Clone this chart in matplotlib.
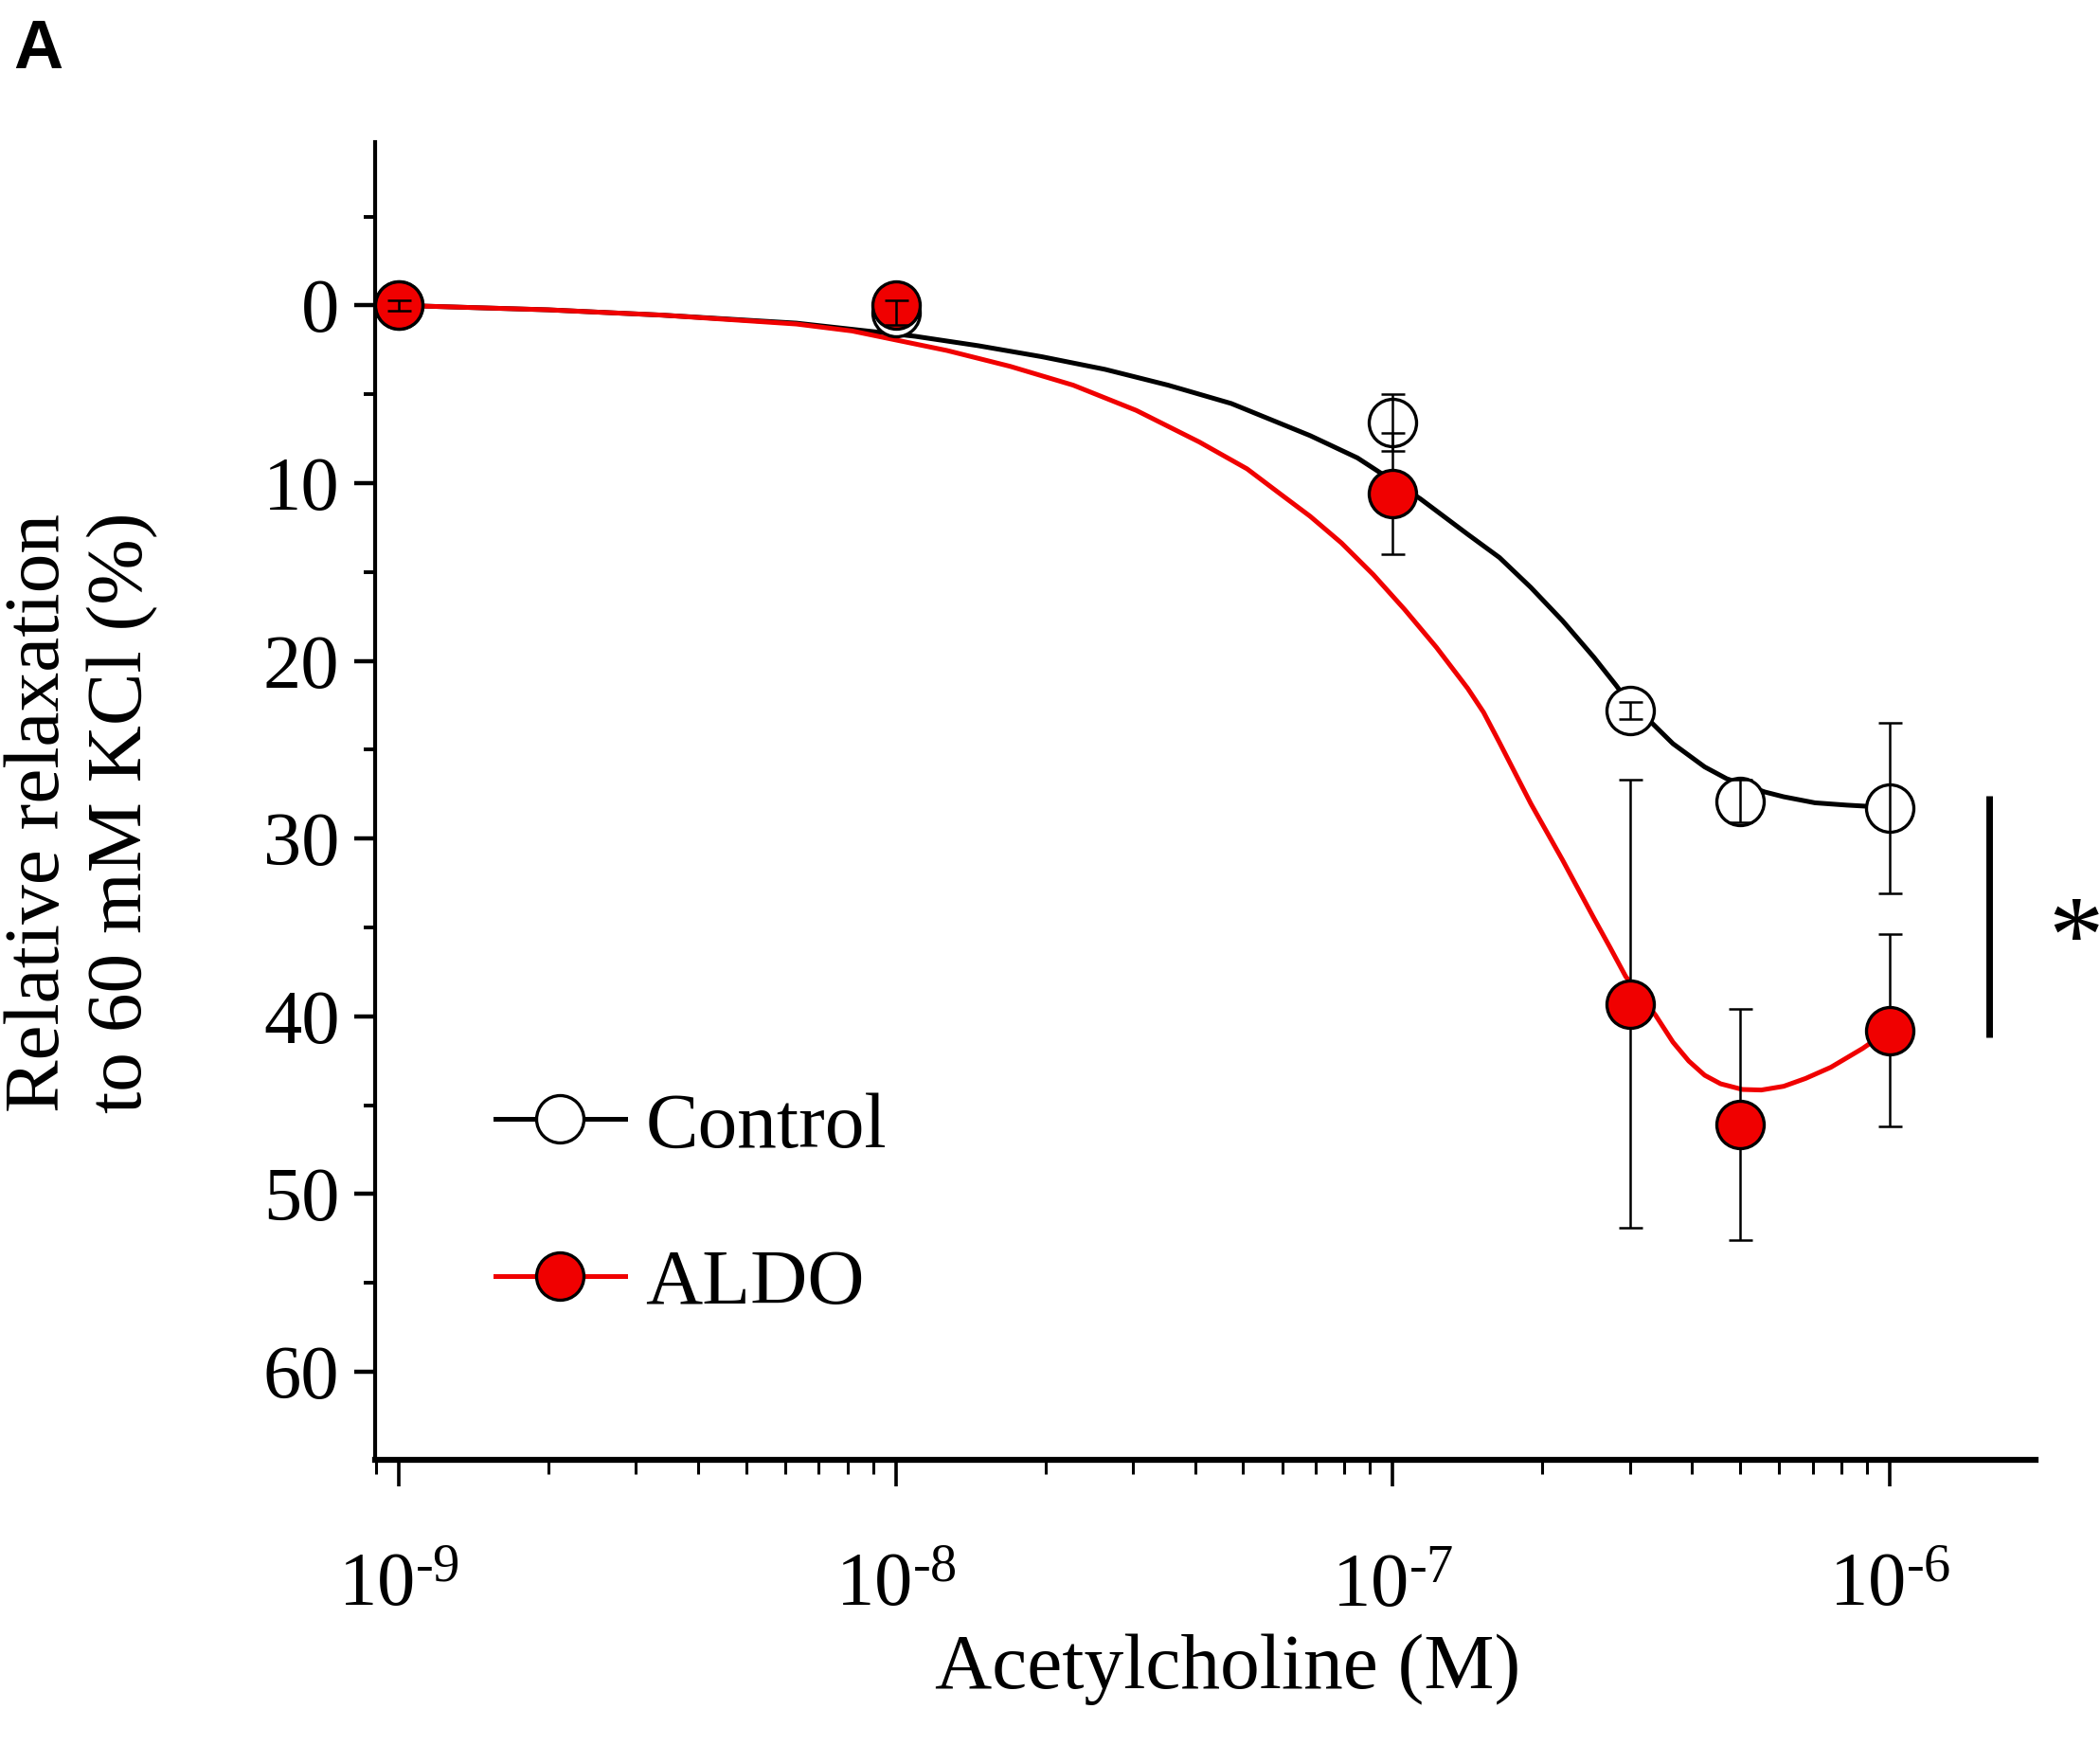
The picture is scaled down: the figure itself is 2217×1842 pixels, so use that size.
import numpy as np
import matplotlib
matplotlib.use('Agg')
import matplotlib.pyplot as plt
from matplotlib.lines import Line2D
from matplotlib.ticker import FixedLocator, LogLocator, NullFormatter, FixedFormatter

plt.rcParams['font.family'] = ['Liberation Serif', 'DejaVu Serif']
plt.rcParams['mathtext.fontset'] = 'custom'
plt.rcParams['mathtext.rm'] = 'Liberation Serif'
plt.rcParams['mathtext.it'] = 'Liberation Serif:italic'

# ---- data ----
conc = [1e-9, 1e-8, 1e-7, 3e-7, 5e-7, 1e-6]
control_mean = [0.0, 0.4, 6.6, 22.8, 27.9, 28.3]
control_sem = [0.3, 0.7, 1.6, 0.5, 1.2, 4.8]
aldo_mean = [0.0, 0.0, 10.6, 39.3, 46.1, 40.8]
aldo_sem = [0.3, 0.3, 3.4, 12.6, 6.5, 5.4]

# fitted curves (log10 concentration, value)
control_fit_logc = [-9.0, -8.7, -8.47, -8.2, -7.961, -7.834, -7.706, -7.579, -7.452, -7.325,
                    -7.166, -7.071, -6.944, -6.849, -6.785, -6.722, -6.658, -6.595, -6.55,
                    -6.525, -6.48, -6.436, -6.372, -6.328, -6.29, -6.251, -6.213, -6.15,
                    -6.086, -6.048, -6.0]
control_fit_val = [0.0, 0.25, 0.55, 1.0, 1.74, 2.27, 2.89, 3.6, 4.49, 5.52,
                   7.33, 8.58, 10.89, 12.88, 14.19, 15.87, 17.75, 19.8, 21.39,
                   22.35, 23.45, 24.66, 25.97, 26.63, 27.0, 27.38, 27.65, 27.99,
                   28.12, 28.18, 28.25]
aldo_fit_logc = [-9.0, -8.7, -8.47, -8.2, -8.088, -7.897, -7.77, -7.643, -7.516, -7.389,
                 -7.293, -7.23, -7.166, -7.103, -7.039, -6.976, -6.912, -6.849, -6.817,
                 -6.785, -6.722, -6.658, -6.595, -6.563, -6.531, -6.471, -6.436, -6.404,
                 -6.372, -6.34, -6.296, -6.258, -6.213, -6.169, -6.118, -6.054, -6.0]
aldo_fit_val = [0.0, 0.25, 0.55, 1.05, 1.44, 2.54, 3.43, 4.49, 5.91, 7.69,
                9.2, 10.53, 11.87, 13.37, 15.15, 17.11, 19.24, 21.55, 22.9,
                24.6, 28.03, 31.21, 34.48, 36.1, 37.76, 39.94, 41.45, 42.52,
                43.32, 43.8, 44.12, 44.15, 43.94, 43.5, 42.87, 41.81, 40.77]

yticks = [0, 10, 20, 30, 40, 50, 60]
yminor = [-5, 5, 15, 25, 35, 45, 55]
xticks = [1e-9, 1e-8, 1e-7, 1e-6]
xticklabels = [r'$\mathregular{10^{\text{-}9}}$', r'$\mathregular{10^{\text{-}8}}$',
               r'$\mathregular{10^{\text{-}7}}$', r'$\mathregular{10^{\text{-}6}}$']
sig_x = 10 ** -5.80
sig_y = [27.6, 41.2]

W, H = 2217, 1842
fig = plt.figure(figsize=(W / 100, H / 100), dpi=100)
ax = fig.add_axes([396 / W, 1 - 1541 / H, (2149 - 396) / W, (1541 - 150.5) / H])
ax.set_xscale('log')
ax.set_xlim(10 ** -9.048, 10 ** -5.706)
ax.set_ylim(64.96, -9.16)

red = '#f00000'
lw_curve = 3.6
ms = 36
mew = 2.4
elw = 1.8

ax.plot(10 ** np.array(control_fit_logc), control_fit_val, color='black', lw=lw_curve,
        zorder=2, solid_joinstyle='round')
ax.plot(10 ** np.array(aldo_fit_logc), aldo_fit_val, color=red, lw=lw_curve,
        zorder=2, solid_joinstyle='round')

ax.plot(conc, control_mean, 'o', ms=ms, mfc='white', mec='black', mew=mew, zorder=3)
ax.errorbar(conc, aldo_mean, yerr=aldo_sem, fmt='none', ecolor='black', elinewidth=elw,
            capsize=9, capthick=elw, zorder=3.5)
ax.plot(conc, aldo_mean, 'o', ms=ms, mfc=red, mec='black', mew=mew, zorder=4)
ax.errorbar(conc, control_mean, yerr=control_sem, fmt='none', ecolor='black', elinewidth=elw,
            capsize=9, capthick=elw, zorder=5)

# significance bar and asterisk
ax.plot([sig_x, sig_x], sig_y, color='black', lw=5, clip_on=False, solid_capstyle='butt')
ax.text(10 ** -5.625, 36.0, '*', fontsize=84, ha='center', va='center', clip_on=False)

for s in ['top', 'right']:
    ax.spines[s].set_visible(False)
ax.spines['left'].set_linewidth(3.0)
ax.spines['bottom'].set_linewidth(4.5)

ax.yaxis.set_major_locator(FixedLocator(yticks))
ax.yaxis.set_minor_locator(FixedLocator(yminor))
ax.xaxis.set_major_locator(FixedLocator(xticks))
ax.xaxis.set_major_formatter(FixedFormatter(xticklabels))
ax.xaxis.set_minor_locator(LogLocator(base=10, subs=np.arange(2, 10)))
ax.xaxis.set_minor_formatter(NullFormatter())

ax.tick_params(axis='y', which='major', length=16, width=3.2, labelsize=58, pad=11, direction='out')
ax.tick_params(axis='y', which='minor', length=9, width=2.8, direction='out')
ax.tick_params(axis='x', which='major', length=20, width=2.6, labelsize=58, pad=51, direction='out')
ax.tick_params(axis='x', which='minor', length=11, width=2.2, direction='out')

ax.set_xlabel('Acetylcholine (M)', fontsize=60)
ax.xaxis.set_label_coords((1296.6 - 396) / 1753, (1541 - 1762) / 1390.5)
ax.xaxis.label.set_va('center')
ax.set_ylabel('Relative relaxation\nto 60 mM KCl (%)', fontsize=60, linespacing=1.2)
ax.yaxis.set_label_coords((86 - 396) / 1753, (1541 - 858) / 1390.5)
ax.yaxis.label.set_va('center')

handles = [
    Line2D([], [], color='black', lw=lw_curve, marker='o', ms=ms, mfc='white', mec='black', mew=mew),
    Line2D([], [], color=red, lw=lw_curve, marker='o', ms=ms, mfc=red, mec='black', mew=mew),
]
ax.legend(handles, ['Control', 'ALDO'], loc='center left',
          bbox_to_anchor=((523 - 396) / 1753, (1541 - 1273) / 1390.5),
          frameon=False, fontsize=60, handlelength=1.64, handletextpad=0.26,
          labelspacing=1.07, borderpad=0, borderaxespad=0)

fig.text(14 / W, 1 - 19 / H, 'A', fontfamily=['Liberation Sans', 'DejaVu Sans'],
         fontweight='bold', fontsize=52, ha='left', va='top')

fig.savefig('out.png', dpi=100, facecolor='white')
